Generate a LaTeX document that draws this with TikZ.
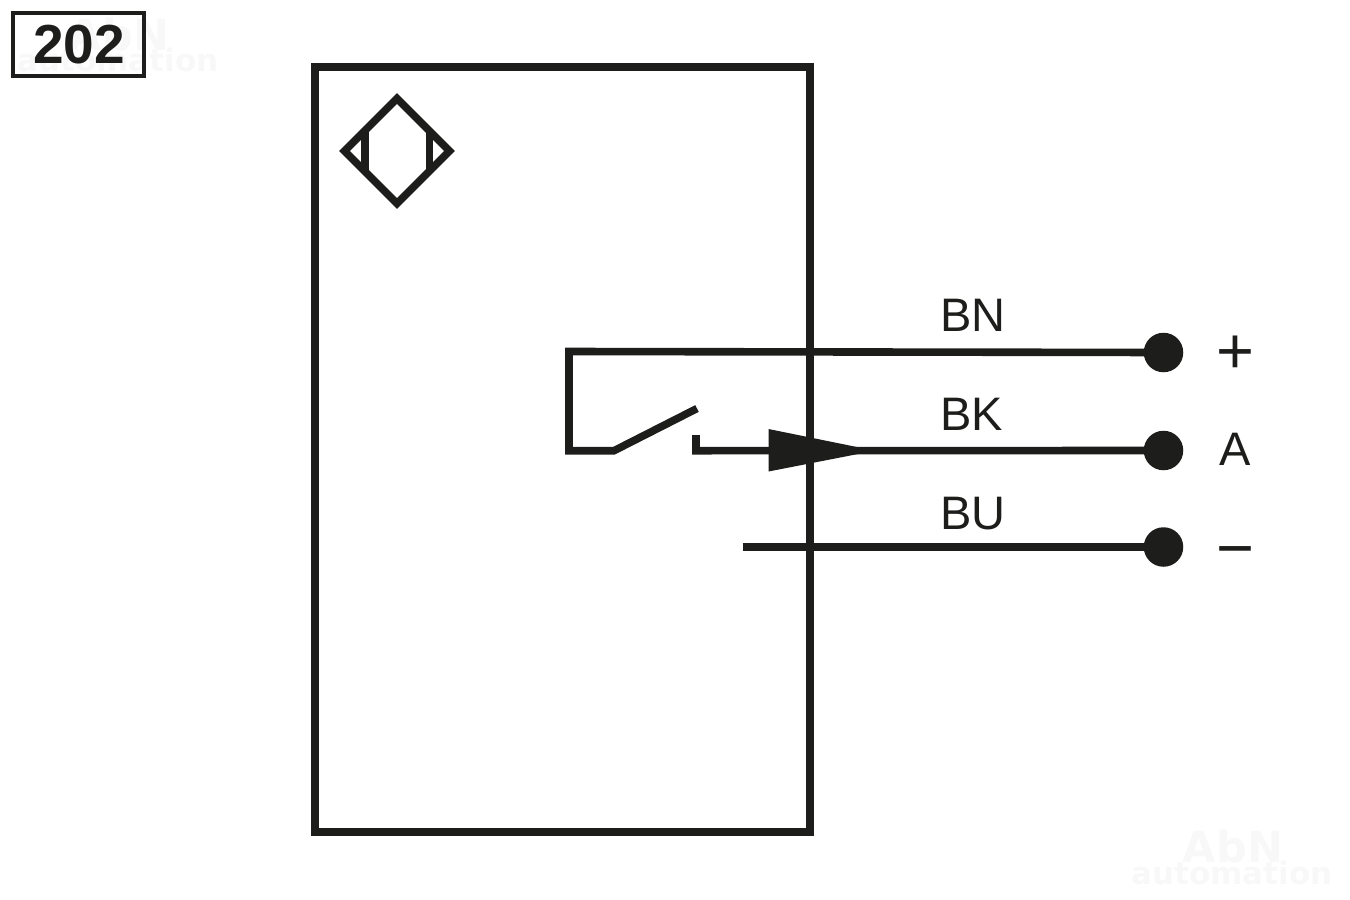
\documentclass[tikz,border=0pt]{standalone}
\usepackage{fontspec}
\setmainfont{Liberation Sans}
\newfontfamily\wmfont{DejaVu Sans}
\definecolor{ink}{HTML}{1D1D1B}
\definecolor{faint}{HTML}{F8F8F8}
\tikzset{
  wire/.style={draw=ink,line width=7.6pt,line cap=butt,line join=miter},
  housing/.style={draw=ink,line width=8pt,line join=miter},
  terminal/.style={circle,fill=ink,draw=none,minimum size=39.5pt,inner sep=0pt},
  wirelabel/.style={anchor=base west,inner sep=0pt,text=ink,font=\fontsize{47}{47}\selectfont},
  symlabel/.style={anchor=center,inner sep=0pt,text=ink,font=\fontsize{65}{65}\selectfont},
  wmbig/.style={anchor=base,inner sep=0pt,text=faint,font=\wmfont\bfseries\fontsize{43}{43}\selectfont},
  wmsmall/.style={anchor=base,inner sep=0pt,text=faint,font=\wmfont\bfseries\fontsize{31}{31}\selectfont},
}
\begin{document}
\begin{tikzpicture}[x=1pt,y=-1pt]
\useasboundingbox (0,0) rectangle (1350,900);
% watermarks
\node[wmbig] (wmA) at (1233,862) {AbN};
\node[wmsmall] (wmB) at (1232,884) {automation};
\node[wmbig] (wmC) at (119,50) {AbN};
\node[wmsmall] (wmD) at (118,71) {automation};
% number box
\node[draw=ink,line width=4pt,fill=none,minimum width=131pt,minimum height=63pt,inner sep=0pt,outer sep=0pt,
      font=\bfseries\fontsize{55}{55}\selectfont,text=ink] (num) at (78.5,44.5) {\hspace{1pt}202};
% housing
\draw[housing] (315,67) rectangle (810,832);
% sensor symbol
\coordinate (dT) at (397,98.5);
\coordinate (dR) at (449.5,151);
\coordinate (dB) at (397,203.5);
\coordinate (dL) at (344.5,151);
\draw[wire] (dT) -- (dR) -- (dB) -- (dL) -- cycle;
\coordinate (b1a) at (365,130);
\coordinate (b1b) at (365,172);
\coordinate (b2a) at (429.5,130);
\coordinate (b2b) at (429.5,172);
\draw[wire] (b1a) -- (b1b);
\draw[wire] (b2a) -- (b2b);
% terminals
\node[terminal] (tP) at (1163.5,352.5) {};
\node[terminal] (tA) at (1163.5,450.5) {};
\node[terminal] (tM) at (1163.5,547) {};
% wires
\coordinate (c1) at (569,351.5);
\coordinate (c2) at (569,450.7);
\coordinate (c3) at (614,450.7);
\coordinate (c4) at (697,408.5);
\draw[wire] (tP.center) -- (c1) -- (c2) -- (c3) -- (c4);
\coordinate (k1) at (696,435);
\coordinate (k2) at (696,450.7);
\draw[wire] (k1) -- (k2) -- (tA.center);
\coordinate (bu) at (742.5,547);
\draw[wire] (bu) -- (tM.center);
% arrowhead
\coordinate (a1) at (768.5,429);
\coordinate (a2) at (875,450.7);
\coordinate (a3) at (768.5,471.5);
\fill[ink] (a1) -- (a2) -- (a3) -- cycle;
% labels
\node[wirelabel] (lBN) at (940,331) {BN};
\node[wirelabel] (lBK) at (940,430.5) {BK};
\node[wirelabel] (lBU) at (940,529) {BU};
\node[symlabel] (lP) at (1235,355) {+};
\node[anchor=base,inner sep=0pt,text=ink,font=\fontsize{47}{47}\selectfont] (lA) at (1235,465) {A};
\node[symlabel] (lM) at (1235,559) {−};
\end{tikzpicture}
\end{document}
